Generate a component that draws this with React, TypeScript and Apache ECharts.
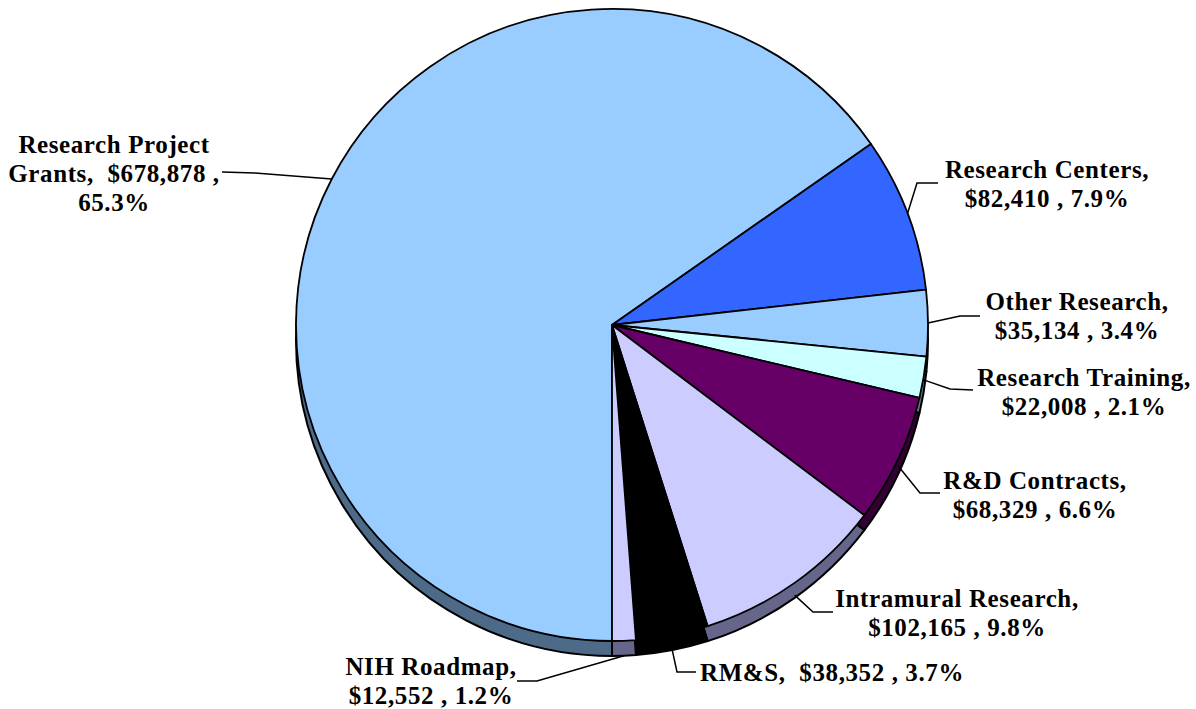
import React, { useEffect, useRef } from "react";
import * as echarts from "echarts";

const categories = [
  "Research Project Grants",
  "Research Centers",
  "Other Research",
  "Research Training",
  "R&D Contracts",
  "Intramural Research",
  "RM&S",
  "NIH Roadmap",
];
const labelNames = [
  "Research Project\nGrants",
  "Research Centers",
  "Other Research",
  "Research Training",
  "R&D Contracts",
  "Intramural Research",
  "RM&S",
  "NIH Roadmap",
];
const values = [678878, 82410, 35134, 22008, 68329, 102165, 38352, 12552];
const topColors = ["#99CCFF", "#3366FF", "#99CCFF", "#CCFFFF", "#660066", "#CCCCFF", "#000000", "#CCCCFF"];
const sideColors = ["#4D6A88", "#1A3380", "#4D6A88", "#668080", "#330033", "#66668A", "#000000", "#66668A"];
const labelFormats = [
  "{n},  {v} ,\n{p}%",
  "{n},\n{v} , {p}%",
  "{n},\n{v} , {p}%",
  "{n},\n{v} , {p}%",
  "{n},\n{v} , {p}%",
  "{n},\n{v} , {p}%",
  "{n},  {v} , {p}%",
  "{n},\n{v} , {p}%",
];

// layout (label block centres and leader line geometry)
const labelCenters = [[114, 173], [1047, 184], [1077, 316], [1084, 392], [1035, 495], [957, 613], [832, 672], [431, 681]];
const labelElbows = [[255, 173], [917, 183], [960, 316], [950, 389], [920, 493], [813, 612], [677, 672], [537, 681]];
const labelEnds = [[222, 172], [938, 183], [980, 316], [973, 390], [940, 493], [833, 612], [696, 672], [517, 681]];

const CX = 612;
const CY = 325;
const R = 316;
const DEPTH = 15;
const START = 270;

export default function App() {
  const ref = useRef<HTMLDivElement>(null);
  useEffect(() => {
    if (!ref.current) return;
    const chart = echarts.init(ref.current, null, { renderer: "svg" });
    const total = values.reduce((a, b) => a + b, 0);
    const midAngles: number[] = [];
    let acc = 0;
    values.forEach((v) => {
      const mid = START - ((acc + v / 2) / total) * 360;
      midAngles.push((mid * Math.PI) / 180);
      acc += v;
    });
    const font = "'Liberation Serif', 'Times New Roman', serif";
    chart.setOption({
      animation: false,
      backgroundColor: "#ffffff",
      series: [
        {
          type: "pie",
          silent: true,
          center: [CX, CY + DEPTH],
          radius: R,
          startAngle: START,
          clockwise: true,
          label: { show: false },
          labelLine: { show: false },
          itemStyle: { borderColor: "#000", borderWidth: 2 },
          data: values.map((v, i) => ({ name: categories[i], value: v, itemStyle: { color: sideColors[i] } })),
          z: 1,
        },
        {
          type: "pie",
          center: [CX, CY],
          radius: R,
          startAngle: START,
          clockwise: true,
          avoidLabelOverlap: false,
          percentPrecision: 1,
          itemStyle: { borderColor: "#000", borderWidth: 1.8 },
          label: {
            show: true,
            position: "outside",
            color: "#000",
            fontFamily: font,
            fontWeight: "bold",
            fontSize: 25,
            lineHeight: 29,
            align: "center",
            formatter: (p: any) => {
              const i = p.dataIndex;
              const v = "$" + values[i].toLocaleString("en-US");
              const pct = ((values[i] / total) * 100).toFixed(1);
              return labelFormats[i].replace("{n}", labelNames[i]).replace("{v}", v).replace("{p}", pct);
            },
          },
          labelLine: { show: true, length: 10, length2: 10, lineStyle: { color: "#000", width: 1.5 } },
          labelLayout: (params: any) => {
            const i = params.dataIndex;
            const a = midAngles[i];
            const sx = CX + R * Math.cos(a);
            let sy = CY - R * Math.sin(a);
            const down = -Math.sin(a);
            if (down > 0) sy += DEPTH * down;
            return {
              x: labelCenters[i][0],
              y: labelCenters[i][1],
              align: "center",
              verticalAlign: "middle",
              labelLinePoints: [[sx, sy], labelElbows[i], labelEnds[i]],
            };
          },
          data: values.map((v, i) => ({ name: categories[i], value: v, itemStyle: { color: topColors[i] } })),
          z: 2,
        },
      ],
    });
    return () => chart.dispose();
  }, []);
  return (
    <div
      ref={ref}
      style={{ position: "absolute", left: 0, top: 0, width: 1196, height: 709, letterSpacing: "0.6px" }}
    />
  );
}
